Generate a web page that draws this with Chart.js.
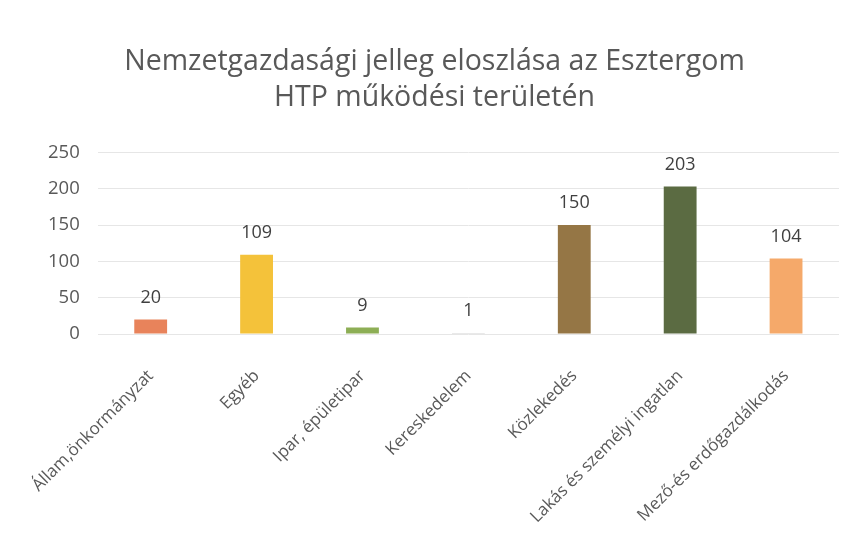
<!DOCTYPE html>
<html>
<head>
<meta charset="utf-8">
<script src="https://cdn.jsdelivr.net/npm/chart.js@4/dist/chart.umd.min.js"></script>
<style>
html,body{margin:0;padding:0;background:#fff;}
#wrap{width:857px;height:533px;position:relative;}
</style>
</head>
<body>
<div id="wrap"><canvas id="c" width="857" height="533"></canvas></div>
<script>
const categories = ["Állam,önkormányzat","Egyéb","Ipar, épületipar","Kereskedelem","Közlekedés","Lakás és személyi ingatlan","Mező-és erdőgazdálkodás"];
const values = [20,109,9,1,150,203,104];
const barColors = ["#E8835B","#F4C23A","#8DAE55","#A9A9A9","#957645","#5B6B42","#F5A96A"];
const titleLines = ["Nemzetgazdasági jelleg eloszlása az Esztergom","HTP működési területén"];

const valueLabels = {
  id:'valueLabels',
  afterDatasetsDraw(chart){
    const ctx = chart.ctx;
    const meta = chart.getDatasetMeta(0);
    ctx.save();
    ctx.font = '18px "Open Sans"';
    ctx.fillStyle = '#404040';
    ctx.textAlign = 'center';
    ctx.textBaseline = 'bottom';
    meta.data.forEach((bar,i)=>{
      ctx.fillText(String(chart.data.datasets[0].data[i]), bar.x, bar.y - 13);
    });
    ctx.restore();
  }
};

new Chart(document.getElementById('c'), {
  type:'bar',
  data:{labels:categories, datasets:[{data:values, backgroundColor:barColors, categoryPercentage:1, barPercentage:0.31}]},
  options:{
    responsive:false, animation:false,
    layout:{padding:{left:30,right:18,top:44,bottom:6}},
    plugins:{
      legend:{display:false}, tooltip:{enabled:false},
      title:{display:true,text:titleLines,color:'#595959',font:{family:'"Open Sans"',size:28.5,weight:'normal',lineHeight:1.27},padding:{top:0,bottom:36}}
    },
    scales:{
      y:{min:0,max:250,ticks:{stepSize:50,color:'#595959',font:{family:'"Open Sans"',size:18.5},padding:18},
         grid:{color:'#e6e6e6',drawTicks:false},border:{display:false}},
      x:{ticks:{color:'#595959',font:{family:'"Open Sans"',size:17},minRotation:45,maxRotation:45,padding:24},
         afterFit(scale){ scale.height = 193; },
         grid:{display:false},border:{display:false}}
    }
  },
  plugins:[valueLabels]
});
</script>
</body>
</html>
